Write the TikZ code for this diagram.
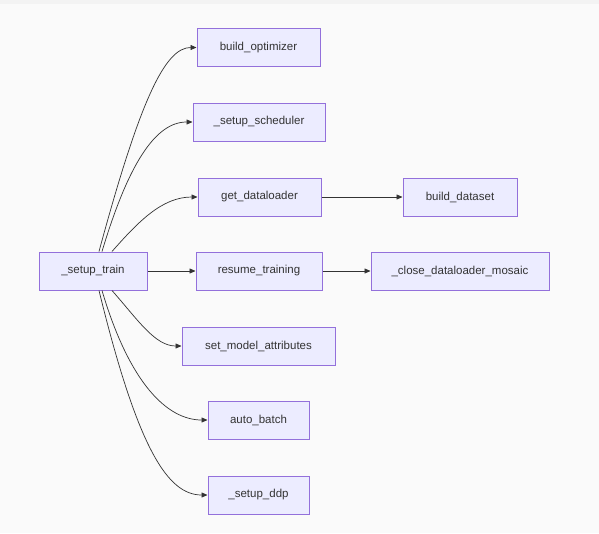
\documentclass[tikz,border=0pt]{standalone}
\usepackage{fontspec}
\setmainfont{Liberation Sans}
\usepackage{tikz}
\usetikzlibrary{arrows.meta,positioning}
\definecolor{nodefill}{RGB}{236, 236, 255}
\definecolor{nodeborder}{RGB}{147, 112, 219}
\definecolor{edgecolor}{RGB}{51, 51, 51}
\definecolor{pagebg}{RGB}{250, 250, 250}
\definecolor{topbar}{RGB}{243, 243, 243}

\begin{document}
\begin{tikzpicture}[x=1pt, y=-1pt,
  func/.style={draw=nodeborder, fill=nodefill, line width=1pt, minimum height=38pt, inner sep=0pt, font=\fontsize{11.5}{13}\selectfont, text=edgecolor},
  call/.style={-{Triangle[length=6pt,width=5pt]}, draw=edgecolor, line width=0.7pt}
]

% Background
\fill[pagebg] (0,0) rectangle (599,533);
\fill[topbar] (0,0) rectangle (599,4);
\useasboundingbox (0,0) rectangle (599,533);

% Nodes
\node[func, minimum width=108pt] (train) at (93, 271) {\_setup\_train};
\node[func, minimum width=123pt] (optim) at (258.5, 47.5) {build\_optimizer};
\node[func, minimum width=132pt] (sched) at (259, 122) {\_setup\_scheduler};
\node[func, minimum width=123pt] (loader) at (259.5, 197) {get\_dataloader};
\node[func, minimum width=114pt] (dataset) at (460, 197) {build\_dataset};
\node[func, minimum width=126pt] (resume) at (259, 271) {resume\_training};
\node[func, minimum width=178pt] (mosaic) at (460, 271) {\_close\_dataloader\_mosaic};
\node[func, minimum width=153pt] (attrs) at (258.5, 346) {set\_model\_attributes};
\node[func, minimum width=101pt] (batch) at (258.5, 420) {auto\_batch};
\node[func, minimum width=101pt] (ddp) at (258.5, 495) {\_setup\_ddp};

% Connections - upwards
\draw[call] ([xshift=6pt]train.north) .. controls (140,100) and (165,47.5) .. (optim.west);
\draw[call] ([xshift=9pt]train.north) .. controls (128,165) and (155,122) .. (sched.west);
\draw[call] ([xshift=19pt]train.north) .. controls (138,222) and (162,197) .. (loader.west);

% Connections - straight
\draw[call] (train) -- (resume);
\draw[call] (loader) -- (dataset);
\draw[call] (resume) -- (mosaic);

% Connections - downwards
\draw[call] ([xshift=19pt]train.south) .. controls (138,320) and (155,346) .. (attrs.west);
\draw[call] ([xshift=9pt]train.south) .. controls (130,385) and (168,420) .. (batch.west);
\draw[call] ([xshift=6pt]train.south) .. controls (138,450) and (168,495) .. (ddp.west);

\end{tikzpicture}
\end{document}
